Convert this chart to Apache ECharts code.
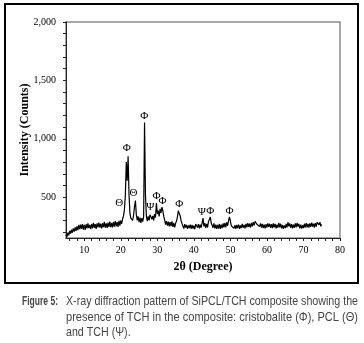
<!DOCTYPE html>
<html><head><meta charset="utf-8">
<script src="https://cdn.jsdelivr.net/npm/echarts@6/dist/echarts.min.js"></script>
<style>html,body{margin:0;padding:0;background:#fff}#c{width:364px;height:343px}</style>
</head><body><div id="c"></div>
<script>
const twoTheta = [
5,5.25,5.5,5.75, 6,6.25,6.5,6.75, 7,7.25,7.5,7.75, 8,8.25,8.5,8.75, 9,9.25,9.5,9.75,
10,10.25,10.5,10.75, 11,11.25,11.5,11.75, 12,12.25,12.5,12.75, 13,13.25,13.5,13.75, 14,14.25,14.5,14.75,
15,15.25,15.5,15.75, 16,16.25,16.5,16.75, 17,17.25,17.5,17.75, 18,18.25,18.5,18.75, 19,19.25,19.5,19.75,
20,20.25,20.5,20.75, 21,21.25,21.5,21.75, 22,22.25,22.5,22.75, 23,23.25,23.5,23.75, 24,24.25,24.5,24.75,
25,25.25,25.5,25.75, 26,26.25,26.5,26.75, 27,27.25,27.5,27.75, 28,28.25,28.5,28.75, 29,29.25,29.5,29.75,
30,30.25,30.5,30.75, 31,31.25,31.5,31.75, 32,32.25,32.5,32.75, 33,33.25,33.5,33.75, 34,34.25,34.5,34.75,
35,35.25,35.5,35.75, 36,36.25,36.5,36.75, 37,37.25,37.5,37.75, 38,38.25,38.5,38.75, 39,39.25,39.5,39.75,
40,40.25,40.5,40.75, 41,41.25,41.5,41.75, 42,42.25,42.5,42.75, 43,43.25,43.5,43.75, 44,44.25,44.5,44.75,
45,45.25,45.5,45.75, 46,46.25,46.5,46.75, 47,47.25,47.5,47.75, 48,48.25,48.5,48.75, 49,49.25,49.5,49.75,
50,50.25,50.5,50.75, 51,51.25,51.5,51.75, 52,52.25,52.5,52.75, 53,53.25,53.5,53.75, 54,54.25,54.5,54.75,
55,55.25,55.5,55.75, 56,56.25,56.5,56.75, 57,57.25,57.5,57.75, 58,58.25,58.5,58.75, 59,59.25,59.5,59.75,
60,60.25,60.5,60.75, 61,61.25,61.5,61.75, 62,62.25,62.5,62.75, 63,63.25,63.5,63.75, 64,64.25,64.5,64.75,
65,65.25,65.5,65.75, 66,66.25,66.5,66.75, 67,67.25,67.5,67.75, 68,68.25,68.5,68.75, 69,69.25,69.5,69.75,
70,70.25,70.5,70.75, 71,71.25,71.5,71.75, 72,72.25,72.5,72.75, 73,73.25,73.5,73.75, 74,74.25,74.5,74.75,
75
];
const intensity = [
178,160,195,172, 210,188,222,195, 232,205,240,212, 250,218,262,225, 265,228,270,222,
262,220,268,232, 275,235,262,225, 270,232,280,238, 268,228,275,240, 282,240,272,232,
278,242,288,238, 275,236,282,245, 290,242,280,240, 288,248,295,250, 285,246,298,255,
300,272,315,340, 395,520,800,640, 850,520,360,320, 335,300,345,420, 470,350,300,335,
285,325,280,320, 290,335,1140,520, 340,295,335,300, 350,365,310,340, 300,355,325,450,
355,385,335,400, 365,415,385,335, 305,265,295,255, 290,250,285,252, 292,245,280,240,
275,295,330,385, 360,340,300,275, 262,230,268,240, 262,228,258,235, 265,228,262,230,
255,225,270,282, 240,268,232,265, 238,278,320,250, 278,236,270,240, 290,300,330,278,
270,238,275,232, 265,228,262,230, 270,228,265,235, 275,240,280,242, 285,255,300,330,
295,255,240,262, 232,260,228,262, 235,265,228,258, 236,270,238,262, 232,270,242,278,
245,272,240,280, 250,285,258,292, 300,268,255,285, 248,275,240,270, 235,265,232,268,
240,275,245,272, 236,268,235,275, 242,270,232,265, 238,280,242,272, 232,262,228,258,
235,270,240,285, 250,275,238,268, 232,265,238,275, 242,280,248,270, 232,264,230,260,
235,272,240,278, 242,270,238,275, 245,282,248,272, 240,278,248,285, 300,262,285,250,
265
];
// Peak annotations
const annX    = [19.6, 21.65, 23.5, 26.45, 28.1, 29.75, 31.4, 36.0, 42.2, 44.5, 49.75];
const annY    = [446,  921,   532,  1195,  412,  508,   463,  440,  372,  378,  378];
const annText = ['Θ',  'Φ',   'Θ',  'Φ',   'Ψ',  'Φ',   'Φ',  'Φ',  'Ψ',  'Φ',  'Φ'];

const xTickValues  = [6,8,10,12,14,16,18,20,22,24,26,28,30,32,34,36,38,40,42,44,46,48,50,52,54,56,58,60,62,64,66,68,70,72,74,76,78,80];
const xLabelValues = [10,20,30,40,50,60,70,80];
const yTickValues  = [200,300,400,500,600,700,800,900,1000,1100,1200,1300,1400,1500,1600,1700,1800,1900,2000];
const yLabelValues = [500,1000,1500,2000];

const xTitle = '2θ (Degree)';
const yTitle = 'Intensity (Counts)';
const captionHead = 'Figure 5:';
const captionLines = [
  'X-ray diffraction pattern of SiPCL/TCH composite showing the',
  'presence of TCH in the composite: cristobalite (Φ), PCL (Θ)',
  'and TCH (Ψ).'
];

const serif = '"Liberation Serif","DejaVu Serif",serif';
const sans = '"Liberation Sans Narrow","Liberation Sans",Arial,sans-serif';

const chart = echarts.init(document.getElementById('c'), null, {renderer:'canvas'});

const ctx = document.createElement('canvas').getContext('2d');
const capFont = '13px ' + sans;
const headFont = 'bold 13px ' + sans;
ctx.font = capFont;
const capLeft = 66, capRight = 358;
const s0 = (capRight - capLeft) / ctx.measureText(captionLines[0]).width;
const s1 = (capRight - capLeft) / ctx.measureText(captionLines[1]).width;
ctx.font = headFont;
const sh = 36 / ctx.measureText(captionHead).width;
const capY = [301, 317, 332];
const capScale = [s0, s1, s0];

const graphics = [
  {type:'rect', shape:{x:5, y:4, width:353, height:279}, style:{fill:'none', stroke:'#000', lineWidth:2}, z:0},
  {type:'text', x:22, y:capY[0], scaleX: sh, style:{text:captionHead, font:headFont, fill:'#454545', verticalAlign:'middle'}}
];
captionLines.forEach((t,i)=>{
  graphics.push({type:'text', x:capLeft, y:capY[i], scaleX:capScale[i],
    style:{text:t, font:capFont, fill:'#454545', verticalAlign:'middle'}});
});

chart.setOption({
  animation:false,
  backgroundColor:'#fff',
  grid:{left:66, top:22, right:24, bottom:105, show:true, borderColor:'#8a8a8a', borderWidth:1.5, backgroundColor:'transparent'},
  xAxis:{
    type:'value', min:5, max:80,
    name:xTitle, nameLocation:'middle', nameGap:23,
    nameTextStyle:{fontFamily:serif, fontWeight:'bold', fontSize:12, color:'#000'},
    axisLine:{show:true, lineStyle:{color:'#222', width:1}},
    axisTick:{show:true, customValues:xTickValues, length:3, lineStyle:{color:'#222'}},
    axisLabel:{customValues:xLabelValues, fontFamily:serif, fontSize:10, color:'#000', margin:7},
    splitLine:{show:false}
  },
  yAxis:{
    type:'value', min:150, max:2000,
    name:yTitle, nameLocation:'middle', nameGap:35, nameRotate:90, nameMoveOverlap:false,
    nameTextStyle:{fontFamily:serif, fontWeight:'bold', fontSize:12, color:'#000'},
    axisLine:{show:true, lineStyle:{color:'#222', width:1}},
    axisTick:{show:true, customValues:yTickValues, length:3, lineStyle:{color:'#222'}},
    axisLabel:{customValues:yLabelValues, fontFamily:serif, fontSize:10, color:'#000', margin:10,
      formatter:v=>v.toLocaleString('en-US')},
    splitLine:{show:false}
  },
  series:[
    {type:'line', data:twoTheta.map((x,i)=>[x,intensity[i]]), showSymbol:false, symbol:'none',
     lineStyle:{color:'#000', width:1.2}, z:3},
    {type:'scatter', data:annX.map((x,i)=>[x,annY[i]]), symbolSize:2, itemStyle:{color:'rgba(0,0,0,0)'},
     label:{show:true, position:'inside', formatter:p=>annText[p.dataIndex],
       fontFamily:serif, fontSize:11, color:'#000', opacity:1}, z:4}
  ],
  graphic:graphics
});
</script></body></html>
